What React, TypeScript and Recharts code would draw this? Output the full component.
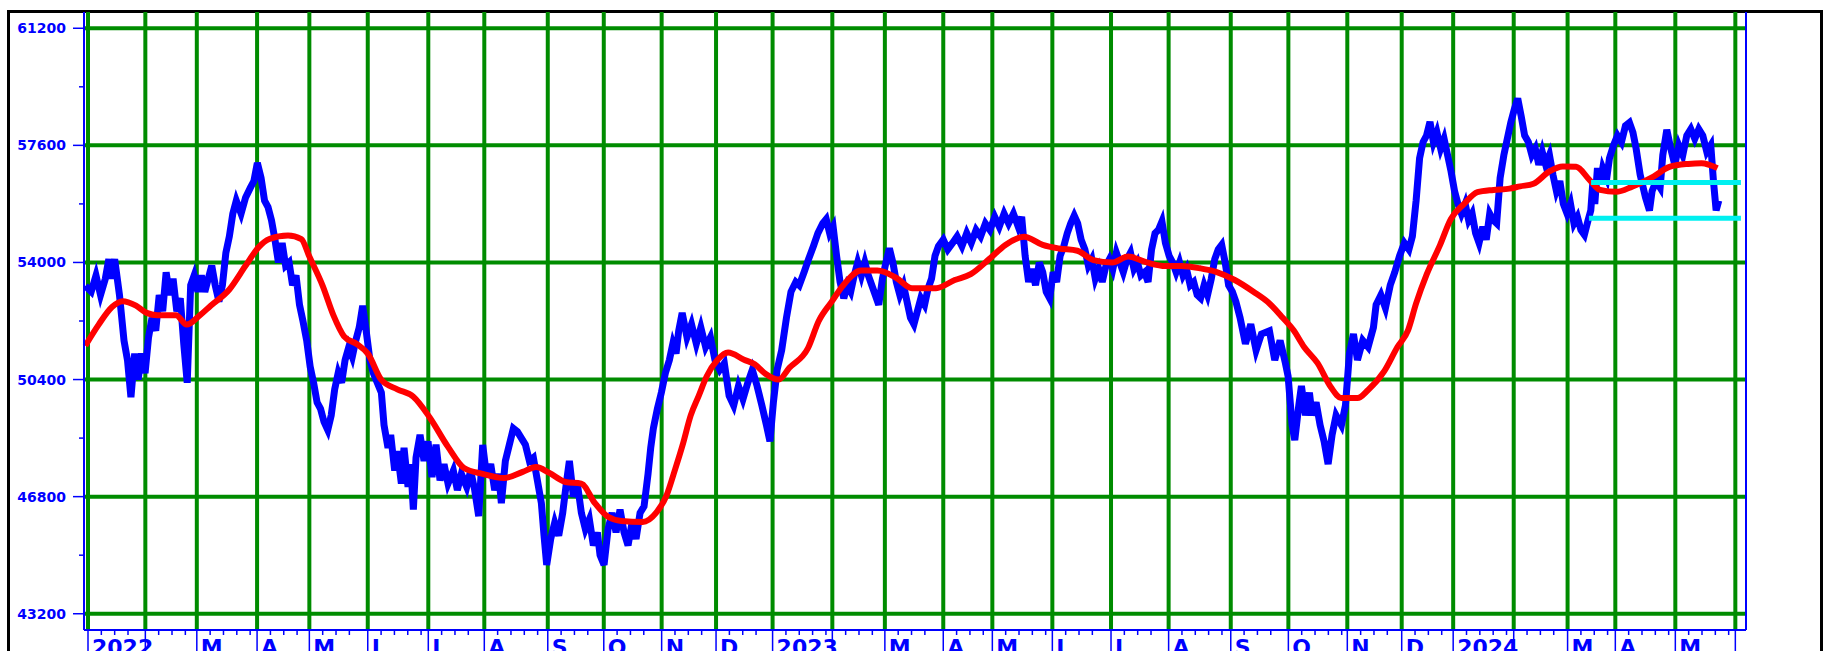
import React from "react";
import { LineChart, Line, XAxis, YAxis, CartesianGrid } from "recharts";

const BLUE = "#0000ff";
const GREEN = "#008c00";
const RED = "#ff0000";
const CYAN = "#00f0f0";
const FONT = "'DejaVu Sans', Verdana, sans-serif";

// x is a session count from the first session of January 2022
const monthStarts = [
	0, 21.5, 40.8, 63.4, 83.0, 104.9, 127.6, 148.6, 172.4, 193.4, 215.1, 235.5,
	256.7, 279.1, 298.8, 320.7, 339.1, 361.6, 383.6, 405.2, 428.5, 450.1, 472.2, 492.6,
	511.9, 534.6, 554.8, 572.7, 595.2, 617.7,
];
const monthLabels = [
	"2022", "", "M", "A", "M", "J", "J", "A", "S", "O", "N", "D",
	"2023", "", "M", "A", "M", "J", "J", "A", "S", "O", "N", "D",
	"2024", "", "M", "A", "M", "",
];

const priceTicks = [43200, 45000, 46800, 48600, 50400, 52200, 54000, 55800, 57600, 59400, 61200];
const gridPrices = [43200, 46800, 50400, 54000, 57600, 61200];

const close2022: [number, number][] = [
	[-1, 53280], [1.2, 53100], [3, 53600], [4.7, 53000], [6.5, 53500], [7.8, 54100], [8.7, 53500],
	[10, 54100], [11.8, 53000], [13.5, 51600], [14.8, 51000], [16.1, 49860], [17.5, 51200],
	[18.8, 50400], [20.1, 51200], [21.4, 50600], [22.7, 51700], [24, 52300], [25.4, 51900],
	[26.7, 53000], [28, 52500], [29.3, 53700], [30.6, 53000], [31.9, 53500], [33.3, 52500],
	[34.6, 52900], [35.9, 51500], [37.2, 50300], [38.5, 53300], [39.8, 53600], [41.2, 53100],
	[42.5, 53600], [43.8, 53100], [45.1, 53500], [46.4, 53900], [47.7, 53300], [49.1, 52800],
	[50.4, 53300], [51.7, 54300], [53, 54800], [54.3, 55500], [55.6, 55900], [57.4, 55500],
	[59.1, 56000], [60.9, 56300], [62.2, 56500], [63.5, 57060], [64.9, 56600], [66.2, 55900],
	[67.5, 55700], [68.8, 55300], [70.1, 54700], [71.4, 54000], [72.8, 54600], [74.1, 53900],
	[75.4, 54000], [76.7, 53300], [78, 53600], [79.3, 52700], [80.6, 52200], [82, 51600],
	[83.3, 50800], [84.6, 50300], [85.9, 49700], [87.2, 49500], [88.5, 49100], [89.9, 48850],
	[91.2, 49300], [92.5, 50100], [93.8, 50600], [95.1, 50300], [96.4, 51000], [97.8, 51400],
	[99.1, 51100], [100.4, 51600], [101.7, 52000], [103, 52670], [104.3, 51900], [105.7, 51000],
	[107, 50600], [108.5, 50300], [110, 50000], [111, 49000], [112.5, 48300], [113.5, 48700],
	[115, 47600], [116, 48200], [117.5, 47200], [118.5, 48300], [120, 47100], [121, 47800],
	[122, 46400], [123, 48000], [124.5, 48700], [126, 47900], [127.5, 48500], [129, 47400],
	[130.5, 48400], [132, 47300], [133.5, 47800], [135, 47200], [137, 47600], [138.5, 47000],
	[140, 47500], [142, 47100], [143.5, 47600], [145, 47000], [146.5, 46200], [148, 48390],
	[149.5, 47400], [151, 47800], [152.5, 47000], [154, 47500], [155, 46600], [156.5, 47900],
	[158, 48400], [159.5, 48900], [161, 48800], [162.5, 48600], [164, 48400], [165.5, 47900],
	[167, 48000], [168.5, 47300], [170, 46600], [171, 45600], [172, 44700], [173.5, 45500],
	[175, 46000], [176.5, 45600], [178, 46300], [179.5, 47300], [180.5, 47900], [182, 46800],
	[183.5, 47200], [185, 46300], [186.5, 45800], [188, 46100], [189.5, 45300], [191, 45700],
	[192, 45000], [193.5, 44700], [195, 45800], [196.5, 46300], [198, 45700], [199.5, 46400],
	[201, 45700], [202.5, 45300], [204, 46000], [205.5, 45500], [207, 46300], [208.5, 46500],
	[210, 47500], [211, 48300], [212, 48900], [213.5, 49500], [215, 50000], [216.5, 50600],
	[218, 51000], [219.3, 51500], [220.5, 51200], [221.5, 51900], [222.8, 52450], [224.6, 51700],
	[226.3, 52100], [228.1, 51500], [229.8, 52000], [231.6, 51400], [233.4, 51700], [235.1, 51000],
	[236.9, 50700], [238.6, 50900], [240.4, 49900], [242.1, 49600], [243.9, 50200], [245.6, 49800],
	[247.4, 50300], [249.1, 50700], [250.9, 50200], [252.7, 49600], [254.4, 49000], [255.7, 48500],
];
const close2023: [number, number][] = [
	[257, 49700], [258.4, 50700], [260.1, 51300], [261.9, 52300], [263.6, 53100], [265.4, 53400],
	[266.7, 53300], [268.5, 53700], [270.2, 54100], [272, 54500], [273.7, 54900], [275.5, 55200],
	[276.8, 55330], [278.1, 54900], [279.4, 55100], [280.7, 54200], [282, 53400], [283.4, 52900],
	[284.7, 53300], [286, 53100], [287.3, 53600], [288.6, 54000], [290, 53600], [291.3, 54000],
	[292.6, 53600], [293.9, 53300], [295.2, 53000], [296.5, 52700], [297.9, 53500], [299.2, 54000],
	[300.5, 54430], [301.8, 54000], [303.1, 53400], [304.4, 53000], [305.8, 53300], [307.1, 52800],
	[308.4, 52300], [309.7, 52100], [311, 52500], [312.3, 52900], [313.7, 52700], [315, 53200],
	[316.3, 53500], [317.6, 54200], [318.9, 54500], [320.7, 54700], [322.4, 54400], [324.2, 54600],
	[325.9, 54800], [327.7, 54500], [329.5, 54900], [331.2, 54600], [333, 55000], [334.7, 54800],
	[336.5, 55200], [338.2, 55000], [340, 55400], [341.7, 55100], [343.5, 55500], [345.2, 55200],
	[347, 55500], [348.8, 55100], [350.1, 55400], [351.4, 54200], [352.7, 53400], [354, 53800],
	[355.3, 53300], [356.7, 54000], [358, 53700], [359.3, 53100], [360.6, 52900], [361.9, 53700],
	[363.2, 53400], [364.5, 54200], [365.9, 54500], [367.2, 54900], [368.5, 55200], [369.8, 55440],
	[371.1, 55200], [372.4, 54700], [373.8, 54400], [375.1, 53900], [376.4, 54100], [377.7, 53500],
	[379, 53800], [380.3, 53400], [381.7, 53900], [383, 54100], [384.3, 53800], [385.6, 54300],
	[386.9, 54000], [388.2, 53700], [389.6, 54100], [390.9, 54300], [392.2, 53800], [393.5, 54000],
	[394.8, 53600], [396.2, 53700], [397.5, 53400], [398.8, 54400], [400.1, 54900], [401.4, 55000],
	[402.7, 55260], [404, 54600], [405.4, 54200], [406.7, 54000], [408, 53700], [409.3, 54000],
	[410.6, 53600], [411.9, 53800], [413.3, 53300], [414.6, 53400], [415.9, 53000], [417.2, 52900],
	[418.5, 53300], [419.8, 53000], [421.2, 53500], [422.5, 54100], [423.8, 54400], [425.1, 54540],
	[426.4, 54000], [427.7, 53300], [429.1, 53100], [430.4, 52800], [432, 52300], [434, 51500],
	[436, 52100], [438, 51300], [440, 51800], [443, 51900], [445, 51000], [447, 51600],
	[449, 50900], [450, 50500], [451.5, 49000], [452.5, 48540], [454, 49600], [455, 50200],
	[456.5, 49300], [458, 50000], [459, 49300], [460.5, 49700], [462, 49000], [463.5, 48500],
	[465, 47800], [466.5, 48700], [468, 49300], [470, 49000], [471.5, 49600], [473, 51200],
	[474.5, 51800], [476, 51000], [478, 51600], [480, 51400], [482, 52000], [483, 52700],
	[484.8, 53000], [486.5, 52600], [488.3, 53300], [490, 53700], [491.8, 54200], [493.6, 54600],
	[495.3, 54400], [496.6, 54800], [498, 55900], [499.3, 57200], [500.6, 57700], [501.9, 57900],
	[503.2, 58320], [504.5, 57700], [505.8, 58000], [507.2, 57500], [508.5, 57800], [509.8, 57300],
	[511.1, 56800],
];
const close2024: [number, number][] = [
	[512.4, 56200], [513.7, 55800], [515, 55500], [516.4, 55800], [517.7, 55300], [519, 55500],
	[520.3, 54900], [521.6, 54600], [523, 55100], [524.3, 54700], [525.6, 55500], [526.9, 55300],
	[528.2, 55200], [529.5, 56600], [530.9, 57300], [532.2, 57800], [533.5, 58300], [534.8, 58700],
	[536.1, 59040], [537.4, 58500], [538.7, 57900], [540.1, 57700], [541.4, 57300], [542.7, 57500],
	[544, 57000], [545.3, 57400], [546.6, 57000], [548, 57300], [549.3, 56700], [550.6, 56200],
	[551.9, 56500], [553.2, 55800], [554.6, 55500], [555.9, 55800], [557.2, 55200], [558.5, 55400],
	[559.8, 55000], [561.1, 54850], [562.5, 55300], [563.5, 55600], [564.3, 56500], [565, 55800],
	[566, 56900], [567, 56400], [568, 56900], [569.5, 56600], [570.5, 57200], [572, 57600],
	[573.5, 57900], [575, 57700], [576.5, 58200], [578, 58300], [579.3, 58000], [580.5, 57500],
	[582, 56700], [584, 56000], [585.5, 55600], [586.5, 56200], [588, 56500], [589.5, 56300],
	[590.5, 57300], [592, 58080], [593.5, 57500], [595, 57000], [596.5, 57600], [598, 57300],
	[599.5, 57900], [601, 58100], [602.5, 57800], [604, 58100], [605.5, 57900], [607, 57400],
	[608.5, 57600], [609.5, 56500], [610.5, 55600], [611.5, 55900],
];

const avg2022: [number, number][] = [
	[-1, 51440], [4, 52090], [9, 52630], [13, 52810], [18, 52670], [22, 52450], [26, 52380],
	[33, 52380], [37, 52090], [42, 52380], [46, 52670], [53, 53170], [59, 53890], [64, 54470],
	[68, 54720], [75, 54830], [80, 54720], [83, 54180], [88, 53280], [92, 52380], [96, 51730],
	[101, 51480], [105, 51190], [110, 50390], [116, 50100], [122, 49870], [128, 49250],
	[135, 48330], [141, 47680], [148, 47500], [156, 47370], [163, 47560], [168, 47710],
	[173, 47530], [179, 47250], [185, 47200], [190, 46610], [195, 46180], [200, 46050],
	[208, 46020], [213, 46300], [217, 46850], [220, 47600], [223, 48400], [226, 49300],
	[229, 49900], [232, 50500], [236, 51000], [240, 51230], [246, 51010], [250, 50870],
	[254, 50580],
];
const avg2023: [number, number][] = [
	[259, 50400], [263, 50760], [270, 51370], [274, 52200], [279, 52810], [283, 53280],
	[290, 53750], [296, 53750], [303, 53530], [309, 53210], [318, 53210], [325, 53460],
	[331, 53640], [338, 54110], [344, 54540], [351, 54790], [358, 54540], [364, 54430],
	[371, 54360], [377, 54070], [384, 54000], [390, 54180], [397, 54000], [404, 53890],
	[410, 53890], [417, 53820], [423, 53710], [430, 53460], [437, 53100], [443, 52740],
	[448, 52300], [452, 51920], [456, 51400], [461, 50910], [466, 50170], [470, 49830],
	[476, 49830], [480, 50080], [486, 50650], [491, 51400], [495, 51920], [498, 52740],
	[502, 53640], [507, 54540], [511, 55330],
];
const avg2024: [number, number][] = [
	[516, 55800], [521, 56160], [527, 56230], [533, 56270], [537, 56340], [542, 56420],
	[548, 56800], [553, 56950], [558, 56940], [563, 56540], [567, 56230], [573, 56170],
	[579, 56330], [587, 56640], [593, 56940], [600, 57030], [605, 57050], [611, 56900],
];

const bandHigh: [number, number][] = [[563.6, 56460], [619.8, 56460]];
const bandLow: [number, number][] = [[562.8, 55360], [619.8, 55360]];

const toPoints = (rows: [number, number][]) => rows.map(([x, v]) => ({ x, v }));
const closeData = toPoints([...close2022, ...close2023, ...close2024]);
const avgData = toPoints([...avg2022, ...avg2023, ...avg2024]);

// weekly minor ticks inside each month
const minorTicks: number[] = [];
for (let i = 0; i < monthStarts.length - 1; i++) {
	for (let d = monthStarts[i] + 5; d < monthStarts[i + 1] - 2; d += 5) minorTicks.push(d);
}
const xTicks = [...monthStarts, ...minorTicks].sort((a, b) => a - b);

const XTick = (props: any) => {
	const { x, y, payload } = props;
	const i = monthStarts.indexOf(payload.value);
	if (i < 0) {
		return <line x1={x} x2={x} y1={y} y2={y + 5} stroke={BLUE} strokeWidth={1.5} />;
	}
	return (
		<g>
			<line x1={x} x2={x} y1={y} y2={y + 30} stroke={BLUE} strokeWidth={1.5} />
			{monthLabels[i] ? (
				<text x={x + 4} y={y + 25} fill={BLUE} fontFamily={FONT} fontWeight="bold" fontSize={22}>
					{monthLabels[i]}
				</text>
			) : null}
		</g>
	);
};

const LeftTick = (props: any) => {
	const { x, y, payload } = props;
	const major = (payload.value - 43200) % 3600 === 0;
	return (
		<g>
			<line x1={x - (major ? 11 : 5)} x2={x} y1={y} y2={y} stroke={BLUE} strokeWidth={1.5} />
			{major ? (
				<text x={x - 18} y={y} dy="0.36em" textAnchor="end" fill={BLUE} fontFamily={FONT} fontWeight="bold" fontSize={14}>
					{payload.value}
				</text>
			) : null}
		</g>
	);
};

const RightTick = (props: any) => {
	const { x, y, payload } = props;
	const major = (payload.value - 43200) % 3600 === 0;
	return (
		<g>
			<line x1={x} x2={x + (major ? 11 : 5)} y1={y} y2={y} stroke={BLUE} strokeWidth={1.5} />
			{major ? (
				<text x={x + 17} y={y} dy="0.36em" textAnchor="start" fill={BLUE} fontFamily={FONT} fontWeight="bold" fontSize={14}>
					{payload.value}
				</text>
			) : null}
		</g>
	);
};

export default function App() {
	return (
		<div style={{ position: "absolute", left: 0, top: 0, width: 1835, height: 651, overflow: "hidden", background: "#fff" }}>
			<div
				style={{
					position: "absolute",
					left: 7,
					top: 10,
					width: 1816,
					height: 720,
					boxSizing: "border-box",
					border: "3px solid #000",
				}}
			/>
			<div style={{ position: "absolute", left: 0, top: 0 }}>
				<LineChart width={1835} height={672} margin={{ top: 12, right: 0, bottom: 0, left: 0 }}>
					<CartesianGrid
						yAxisId="left"
						horizontalValues={gridPrices}
						verticalValues={monthStarts}
						stroke={GREEN}
						strokeWidth={4}
					/>
					<XAxis
						type="number"
						dataKey="x"
						domain={[-1.5, 621.7]}
						ticks={xTicks}
						interval={0}
						height={42}
						tickSize={0}
						tickMargin={0}
						tickLine={false}
						axisLine={{ stroke: BLUE, strokeWidth: 2 }}
						tick={XTick}
					/>
					<YAxis
						yAxisId="left"
						orientation="left"
						width={84}
						domain={[42700, 61700]}
						ticks={priceTicks}
						interval={0}
						tickSize={0}
						tickMargin={0}
						tickLine={false}
						axisLine={{ stroke: BLUE, strokeWidth: 2 }}
						tick={LeftTick}
					/>
					<YAxis
						yAxisId="right"
						orientation="right"
						width={89}
						domain={[42700, 61700]}
						ticks={priceTicks}
						interval={0}
						tickSize={0}
						tickMargin={0}
						tickLine={false}
						axisLine={{ stroke: BLUE, strokeWidth: 2 }}
						tick={RightTick}
					/>
					<Line yAxisId="left" data={closeData} dataKey="v" type="linear" stroke={BLUE} strokeWidth={7} dot={false} isAnimationActive={false} />
					<Line yAxisId="left" data={avgData} dataKey="v" type="monotone" stroke={RED} strokeWidth={6} dot={false} isAnimationActive={false} />
					<Line yAxisId="left" data={toPoints(bandHigh)} dataKey="v" type="linear" stroke={CYAN} strokeWidth={5} dot={false} isAnimationActive={false} />
					<Line yAxisId="left" data={toPoints(bandLow)} dataKey="v" type="linear" stroke={CYAN} strokeWidth={5} dot={false} isAnimationActive={false} />
				</LineChart>
			</div>
		</div>
	);
}
